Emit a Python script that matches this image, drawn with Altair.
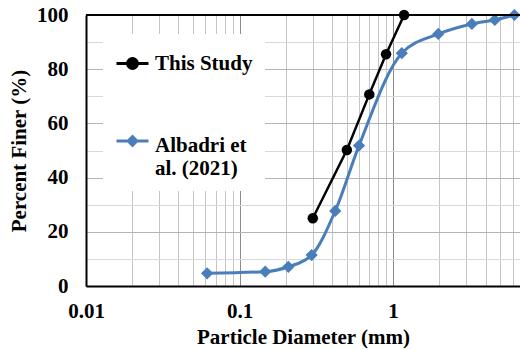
import altair as alt
import pandas as pd

# ---- data ----
series_names = ["This Study", "Albadri et al. (2021)"]
series_colors = ["#000000", "#4a7ebb"]

study_d = [0.30, 0.50, 0.70, 0.90, 1.18]
study_p = [25.0, 50.2, 70.7, 85.5, 100.0]

albadri_d = [0.0615, 0.147, 0.208, 0.295, 0.42, 0.60, 1.14, 1.97, 3.26, 4.60, 6.17]
albadri_p = [4.7, 5.3, 7.1, 11.4, 27.7, 51.8, 85.9, 93.0, 96.7, 98.2, 100.0]

x_ticks = [0.01, 0.02, 0.03, 0.04, 0.05, 0.06, 0.07, 0.08, 0.09,
           0.1, 0.2, 0.3, 0.4, 0.5, 0.6, 0.7, 0.8, 0.9,
           1, 2, 3, 4, 5, 6]
y_ticks = [0, 10, 20, 30, 40, 50, 60, 70, 80, 90, 100]

x_domain = [0.01, 6.71]
y_domain = [0, 100]

df = pd.DataFrame({
    "d": study_d + albadri_d,
    "p": study_p + albadri_p,
    "series": [series_names[0]] * len(study_d) + [series_names[1]] * len(albadri_d),
})

FONT = "Liberation Serif"
FS = 21
decade_test = "abs(log(datum.value)/LN10 - round(log(datum.value)/LN10)) < 1e-6"

x_enc = alt.X("d:Q",
              scale=alt.Scale(type="log", domain=x_domain, nice=False),
              axis=alt.Axis(values=x_ticks, title="Particle Diameter (mm)",
                            labelExpr=f"{decade_test} ? format(datum.value, '~g') : ''",
                            ticks=False, tickSize=0, labelPadding=14, titlePadding=5,
                            domainColor="black", domainWidth=2,
                            gridColor={"condition": {"test": decade_test, "value": "#8c8c8c"},
                                       "value": "#c4c4c4"},
                            labelFlush=False))
y_enc = alt.Y("p:Q",
              scale=alt.Scale(domain=y_domain, nice=False),
              axis=alt.Axis(values=y_ticks, title="Percent Finer (%)",
                            labelExpr="datum.value % 20 == 0 ? datum.label : ''",
                            ticks=False, tickSize=0, labelPadding=18, titlePadding=7,
                            domainColor="black", domainWidth=2,
                            gridColor={"condition": {"test": "datum.value % 20 == 0", "value": "#b4b4b4"},
                                       "value": "#d9d9d9"}))

base = alt.Chart(df)

study = base.transform_filter(alt.datum.series == series_names[0])
albadri = base.transform_filter(alt.datum.series == series_names[1])

study_line = study.mark_line(color=series_colors[0], strokeWidth=2.5).encode(x=x_enc, y=y_enc)
study_pts = study.mark_point(shape="circle", filled=True, color=series_colors[0], size=110, opacity=1).encode(x=x_enc, y=y_enc)
alb_line = albadri.mark_line(color=series_colors[1], strokeWidth=3, interpolate="monotone").encode(x=x_enc, y=y_enc)
alb_pts = albadri.mark_point(shape="diamond", filled=True, color=series_colors[1], size=150, opacity=1).encode(x=x_enc, y=y_enc)

# legend glyphs: a short line with the series marker (second one raised to sit on the first text line)
legend_shapes = [
    "M-1,0L1,0M-0.31,0A0.31,0.31,0,1,1,0.31,0A0.31,0.31,0,1,1,-0.31,0Z",
    "M-1,-0.28L1,-0.28M-0.27,-0.28L0,-0.55L0.27,-0.28L0,-0.01Z",
]

legend = alt.Legend(title=None, orient="none", legendX=17, legendY=19, padding=12,
                    fillColor="white", labelFont=FONT, labelFontSize=FS,
                    labelFontWeight="bold", labelColor="black", symbolSize=1024,
                    symbolStrokeWidth=3, rowPadding=53, labelOffset=5, labelLimit=300,
                    labelBaseline="middle",
                    labelExpr="datum.label == 'Albadri et al. (2021)' ? ['Albadri et', 'al. (2021)'] : datum.label")

legend_layer = base.transform_filter("false").mark_point(filled=True, strokeWidth=3, opacity=1).encode(
    x=x_enc, y=y_enc,
    color=alt.Color("series:N", scale=alt.Scale(domain=series_names, range=series_colors), legend=legend),
    stroke=alt.Stroke("series:N", scale=alt.Scale(domain=series_names, range=series_colors), legend=legend),
    shape=alt.Shape("series:N", scale=alt.Scale(domain=series_names, range=legend_shapes), legend=legend),
)

top_border = alt.Chart(df).mark_rule(color="black", strokeWidth=2).encode(
    x=alt.value(0), x2=alt.value("width"), y=alt.value(0))

chart = alt.layer(study_line, alb_line, study_pts, alb_pts, legend_layer, top_border).properties(
    width=434, height=271,
    padding={"left": 86, "top": 15, "right": 0, "bottom": 63},
    autosize="none",
).configure_view(stroke=None).configure_axis(
    labelFont=FONT, labelFontSize=FS, labelFontWeight="bold", labelColor="black",
    titleFont=FONT, titleFontSize=FS, titleFontWeight="bold", titleColor="black",
    gridWidth=1,
)

chart.save("out.html", embed_options={"renderer": "svg", "actions": False})
